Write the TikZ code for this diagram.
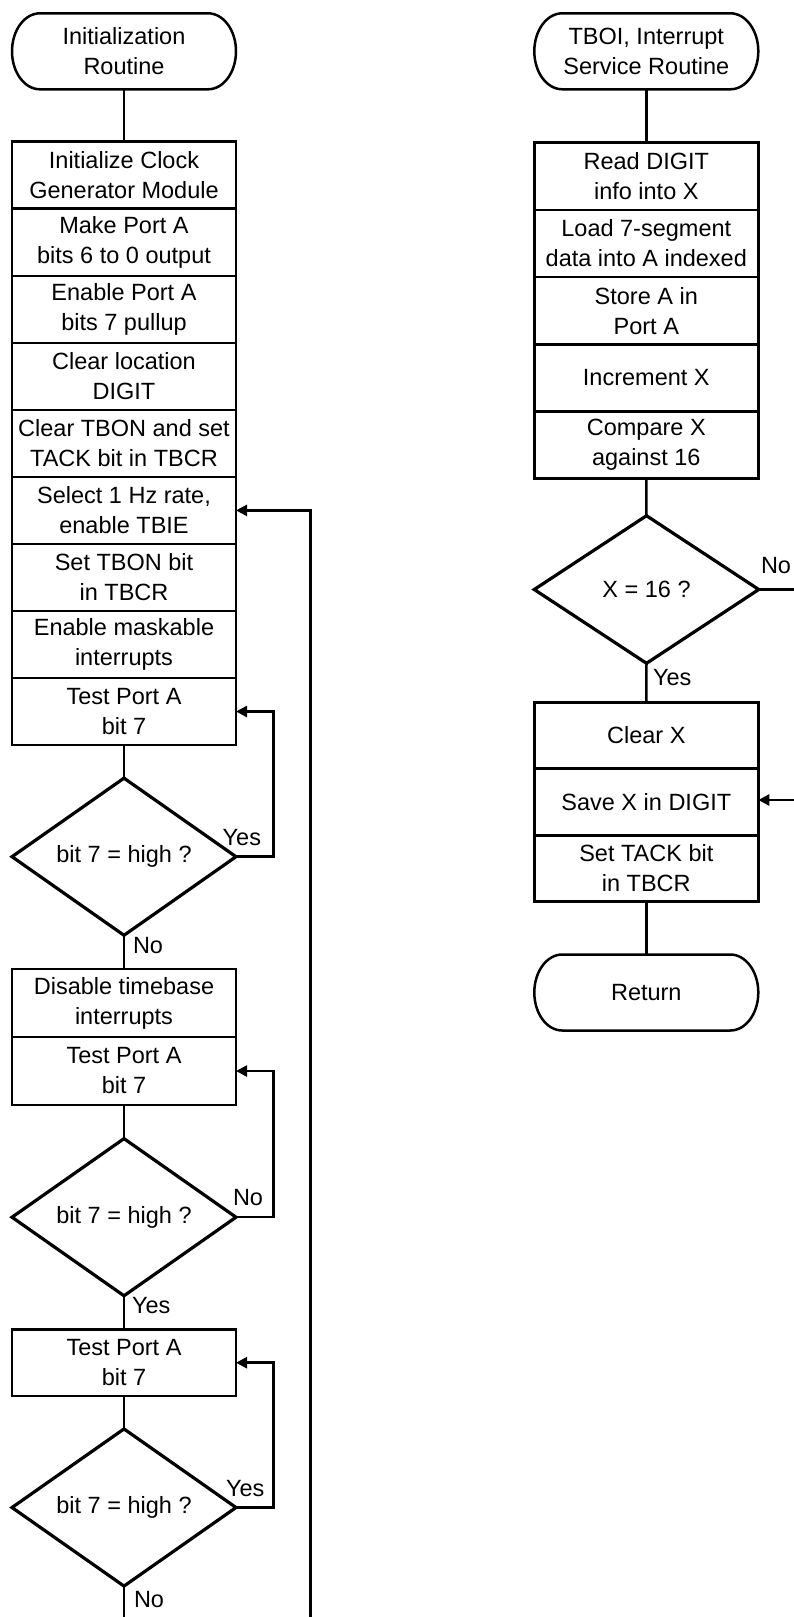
\documentclass[tikz,border=0pt]{standalone}
\usepackage{fontspec}
\setmainfont{Liberation Sans}
\usetikzlibrary{arrows.meta,shapes.geometric}
\begin{document}
\begin{tikzpicture}[x=1pt,y=-1pt,
  every node/.style={font=\fontsize{23.5}{30}\selectfont, inner sep=0pt, outer sep=0pt},
  stepbox/.style={draw, line width=2.6pt, minimum width=224pt, align=center},
  decision/.style={diamond, draw, line width=3.2pt, minimum width=224pt, minimum height=148pt},
  term/.style={minimum width=224pt, minimum height=76pt, align=center},
  termline/.style={line width=2.5pt},
  conn/.style={line width=2.5pt},
  arr/.style={conn, -{Triangle[length=11pt,width=11pt]}},
  lbl/.style={anchor=base west}
]
\useasboundingbox (0,0) rectangle (794,1617);

% ---------- left column ----------
\node[term] (t1) at (124,51.3) {Initialization\\Routine};
\node[stepbox, minimum height=67pt] (a1) at (124,175.2) {Initialize Clock\\Generator Module};
\node[stepbox, minimum height=67pt] (a2) at (124,242.3) {Make Port A\\bits 6 to 0 output};
\node[stepbox, minimum height=67pt] (a3) at (124,309.3) {Enable Port A\\bits 7 pullup};
\node[stepbox, minimum height=67pt] (a4) at (124,376.3) {Clear location\\DIGIT};
\node[stepbox, minimum height=67pt] (a5) at (124,443.4) {Clear TBON and set\\TACK bit in TBCR};
\node[stepbox, minimum height=67pt] (a6) at (124,510.4) {Select 1 Hz rate,\\enable TBIE};
\node[stepbox, minimum height=67pt] (a7) at (124,577.5) {Set TBON bit\\in TBCR};
\node[stepbox, minimum height=67pt] (a8) at (124,644.5) {Enable maskable\\interrupts};
\node[stepbox, minimum height=67pt] (a9) at (124,711.5) {Test Port A\\bit 7};
\node[decision] (d1) at (124,856.7) {bit 7 = high ?};
\node[stepbox, minimum height=68pt] (b1) at (124,1003) {Disable timebase\\interrupts};
\node[stepbox, minimum height=68pt] (b2) at (124,1071) {Test Port A\\bit 7};
\node[decision, minimum height=149pt] (d2) at (124,1217.2) {bit 7 = high ?};
\node[stepbox, minimum height=66.7pt] (c1) at (124,1362.7) {Test Port A\\bit 7};
\node[decision] (d3) at (124,1507.5) {bit 7 = high ?};

\coordinate (loopx) at (273.3,0);
\coordinate (bigx) at (310.7,0);
\coordinate (bot) at (124,1620);
\coordinate (bigbot) at (310.7,1620);

% ---------- right column ----------
\node[term] (t2) at (646.3,51.3) {TBOI, Interrupt\\Service Routine};
\node[stepbox, minimum height=67.2pt] (r1) at (646.3,176.3) {Read DIGIT\\info into X};
\node[stepbox, minimum height=67.2pt] (r2) at (646.3,243.5) {Load 7-segment\\data into A indexed};
\node[stepbox, minimum height=67.2pt] (r3) at (646.3,310.7) {Store A in\\Port A};
\node[stepbox, minimum height=67.2pt] (r4) at (646.3,377.9) {Increment X};
\node[stepbox, minimum height=67.2pt] (r5) at (646.3,445.1) {Compare X\\against 16};
\node[decision, minimum width=224.5pt, minimum height=147.6pt] (rd) at (646.5,589.5) {X = 16 ?};
\node[stepbox, minimum height=66.5pt] (s1) at (646.3,735.5) {Clear X};
\node[stepbox, minimum height=66.5pt] (s2) at (646.3,802) {Save X in DIGIT};
\node[stepbox, minimum height=66.5pt] (s3) at (646.3,868.5) {Set TACK bit\\in TBCR};
\node[term] (t3) at (646.3,992.5) {Return};

\coordinate (redge1) at (797,589.5);
\coordinate (redge2) at (797,800);

% ---------- terminal outlines ----------
\foreach \t in {t1,t2,t3}{
  \draw[termline] ([xshift=28pt]\t.north west) -- ([xshift=-28pt]\t.north east)
    arc[start angle=90,end angle=-90,x radius=28pt,y radius=38pt]
    -- ([xshift=28pt]\t.south west)
    arc[start angle=270,end angle=90,x radius=28pt,y radius=38pt] -- cycle;
}

% ---------- connectors left ----------
\draw[conn] (t1.south) -- (a1.north);
\draw[conn] (a9.south) -- (d1.north);
\draw[arr] (d1.east) -- (d1.east -| loopx) |- (a9.east);
\draw[conn] (d1.south) -- (b1.north);
\draw[conn] (b2.south) -- (d2.north);
\draw[arr] (d2.east) -- (d2.east -| loopx) |- (b2.east);
\draw[conn] (d2.south) -- (c1.north);
\draw[conn] (c1.south) -- (d3.north);
\draw[arr] (d3.east) -- (d3.east -| loopx) |- (c1.east);
\draw[conn] (d3.south) -- (bot);
\draw[arr] (bigbot) |- (a6.east);

\node[lbl] (l1) at (222.7,845) {Yes};
\node[lbl] (l2) at (133,953) {No};
\node[lbl] (l3) at (233,1205) {No};
\node[lbl] (l4) at (132,1313) {Yes};
\node[lbl] (l5) at (226,1496) {Yes};
\node[lbl] (l6) at (134,1607) {No};

% ---------- connectors right ----------
\draw[conn] (t2.south) -- (r1.north);
\draw[conn] (r5.south) -- (rd.north);
\draw[conn] (rd.south) -- (s1.north);
\draw[conn] (rd.east) -- (redge1);
\draw[arr] (redge2) -- (s2.east |- redge2);
\draw[conn] (s3.south) -- (t3.north);

\node[lbl] (l7) at (761,573) {No};
\node[lbl] (l8) at (653,685) {Yes};
\end{tikzpicture}
\end{document}
